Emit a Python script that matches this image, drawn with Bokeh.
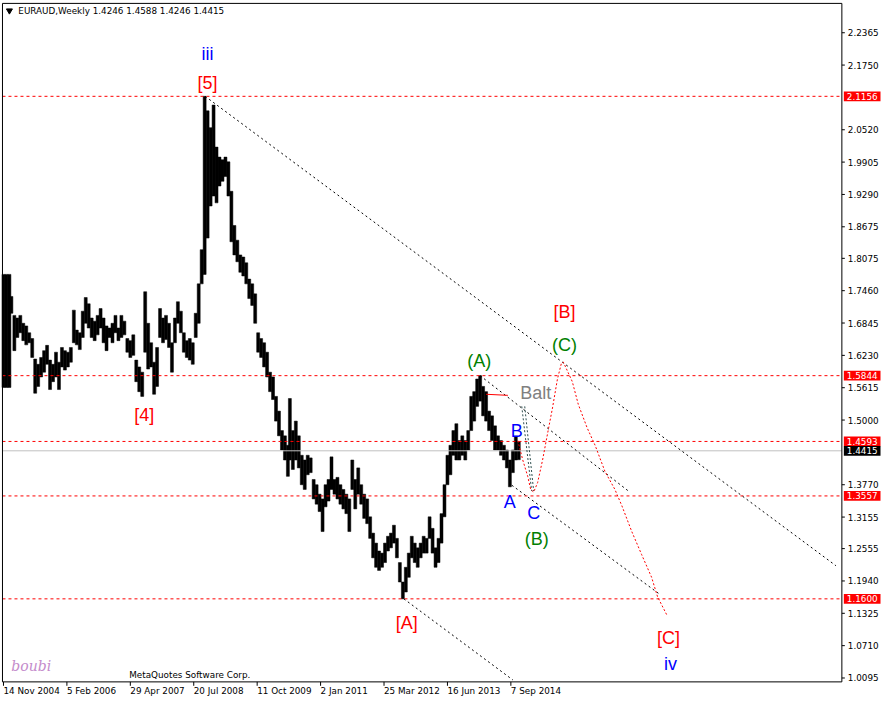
from bokeh.plotting import figure
from bokeh.models import ColumnDataSource, Range1d
from bokeh.embed import file_html
from bokeh.resources import INLINE
from bokeh.core.properties import value

# ---------------- data ----------------
# week index counted from 14 Nov 2004 (one bar per week)
week = [0, 3, 6, 8, 11, 14, 17, 20, 23, 26, 29, 32, 35, 38, 41, 44, 47, 50, 53, 56, 59, 62, 65, 68, 71,
        74, 77, 80, 83, 86, 89, 92, 95, 98, 101, 104, 107, 110, 113, 116, 119, 122, 125, 128, 131, 134,
        137, 140, 143, 146, 149, 152, 155, 158, 161, 164, 167, 170, 173, 176, 179, 182, 185, 188, 191,
        194, 197, 200, 203, 206, 209, 212, 215, 218, 221, 224, 227, 230, 233, 236, 239, 242, 245, 248,
        251, 254, 257, 260, 263, 266, 269, 272, 275, 278, 281, 284, 287, 289, 292, 295, 298, 301, 304,
        307, 310, 313, 316, 319, 322, 325, 328, 331, 334, 337, 340, 343, 346, 349, 352, 355, 358, 361,
        364, 367, 370, 373, 376, 379, 382, 385, 388, 391, 394, 397, 400, 403, 406, 409, 412, 415, 418,
        421, 424, 427, 430, 433, 436, 439, 442, 445, 448, 451, 454, 457, 460, 463, 466, 469, 472, 475,
        478, 481, 484, 487, 490, 493, 496, 499, 502, 505, 508, 511, 514, 517, 520]
high = [1.777, 1.777, 1.777, 1.735, 1.699, 1.694, 1.699, 1.684, 1.679, 1.666, 1.655, 1.616, 1.606, 1.619,
        1.632, 1.642, 1.614, 1.606, 1.629, 1.610, 1.638, 1.632, 1.629, 1.638, 1.709, 1.671, 1.666, 1.707,
        1.733, 1.721, 1.694, 1.688, 1.699, 1.712, 1.694, 1.679, 1.675, 1.684, 1.699, 1.675, 1.699, 1.688,
        1.655, 1.651, 1.662, 1.614, 1.601, 1.591, 1.744, 1.684, 1.647, 1.610, 1.638, 1.712, 1.694, 1.699,
        1.684, 1.647, 1.694, 1.725, 1.707, 1.666, 1.651, 1.655, 1.647, 1.703, 1.759, 1.824, 2.1156, 2.088,
        2.056, 2.099, 2.019, 2.000, 1.995, 2.000, 1.991, 1.935, 1.870, 1.842, 1.814, 1.810, 1.799, 1.768,
        1.759, 1.740, 1.666, 1.655, 1.647, 1.629, 1.591, 1.582, 1.545, 1.517, 1.480, 1.470, 1.452, 1.541,
        1.480, 1.498, 1.470, 1.433, 1.424, 1.433, 1.428, 1.387, 1.377, 1.359, 1.350, 1.377, 1.387, 1.430,
        1.387, 1.391, 1.377, 1.368, 1.359, 1.350, 1.424, 1.387, 1.409, 1.377, 1.359, 1.350, 1.316, 1.285,
        1.266, 1.251, 1.247, 1.266, 1.279, 1.285, 1.300, 1.275, 1.229, 1.192, 1.220, 1.247, 1.279, 1.266,
        1.257, 1.266, 1.279, 1.275, 1.316, 1.294, 1.257, 1.275, 1.322, 1.377, 1.433, 1.452, 1.480, 1.493,
        1.461, 1.470, 1.461, 1.480, 1.545, 1.554, 1.578, 1.5844, 1.564, 1.554, 1.517, 1.508, 1.489, 1.470,
        1.461, 1.452, 1.443, 1.424, 1.443, 1.469, 1.4588]
low = [1.562, 1.562, 1.562, 1.703, 1.632, 1.657, 1.666, 1.651, 1.643, 1.647, 1.619, 1.551, 1.564, 1.582,
       1.591, 1.606, 1.558, 1.573, 1.582, 1.558, 1.601, 1.595, 1.601, 1.610, 1.647, 1.643, 1.634, 1.657,
       1.684, 1.675, 1.657, 1.651, 1.662, 1.675, 1.647, 1.632, 1.657, 1.647, 1.666, 1.651, 1.657, 1.662,
       1.629, 1.619, 1.623, 1.573, 1.554, 1.545, 1.629, 1.597, 1.601, 1.549, 1.564, 1.657, 1.647, 1.653,
       1.638, 1.591, 1.647, 1.684, 1.666, 1.629, 1.619, 1.614, 1.606, 1.657, 1.684, 1.759, 1.777, 1.846,
       1.907, 1.926, 1.913, 1.945, 1.954, 1.963, 1.926, 1.839, 1.814, 1.801, 1.781, 1.774, 1.759, 1.731,
       1.718, 1.684, 1.629, 1.619, 1.601, 1.582, 1.554, 1.539, 1.498, 1.470, 1.443, 1.424, 1.393, 1.424,
       1.406, 1.424, 1.409, 1.377, 1.368, 1.396, 1.400, 1.350, 1.340, 1.326, 1.288, 1.335, 1.346, 1.368,
       1.359, 1.350, 1.340, 1.331, 1.322, 1.288, 1.368, 1.331, 1.359, 1.340, 1.313, 1.303, 1.275, 1.238,
       1.220, 1.214, 1.220, 1.229, 1.251, 1.257, 1.266, 1.238, 1.192, 1.160, 1.173, 1.201, 1.238, 1.229,
       1.220, 1.238, 1.247, 1.247, 1.275, 1.247, 1.220, 1.229, 1.266, 1.316, 1.377, 1.396, 1.433, 1.424,
       1.424, 1.433, 1.424, 1.443, 1.480, 1.498, 1.526, 1.536, 1.508, 1.498, 1.480, 1.461, 1.443, 1.443,
       1.433, 1.424, 1.409, 1.373, 1.400, 1.424, 1.4246]

date_tick_weeks = [0, 64, 128, 192, 256, 320, 384, 448, 512]
date_tick_labels = ["14 Nov 2004", "5 Feb 2006", "29 Apr 2007", "20 Jul 2008", "11 Oct 2009",
                    "2 Jan 2011", "25 Mar 2012", "16 Jun 2013", "7 Sep 2014"]
price_ticks = [2.2365, 2.1750, 2.0520, 1.9905, 1.9290, 1.8675, 1.8075, 1.7460, 1.6845, 1.6230,
               1.5615, 1.5000, 1.3770, 1.3155, 1.2555, 1.1940, 1.1325, 1.0710, 1.0095]

level_prices = [2.1156, 1.5844, 1.4593, 1.3557, 1.1600]
last_price = 1.4415

# dotted black trend lines (week, price) start/end
trend_w0 = [203.5, 481, 513, 404]
trend_p0 = [2.1156, 1.5844, 1.376, 1.160]
trend_w1 = [840, 632, 662, 514]
trend_p1 = [1.223, 1.363, 1.169, 1.0058]

# red dotted projected path
proj_week = [519, 524, 529, 532, 535, 539, 544, 549, 554, 559, 563, 565, 574, 580, 589, 597, 607,
             617, 624, 634, 644, 654, 660, 670]
proj_price = [1.461, 1.424, 1.393, 1.368, 1.363, 1.381, 1.424, 1.474, 1.523, 1.578, 1.608, 1.610,
              1.573, 1.530, 1.485, 1.452, 1.402, 1.368, 1.337, 1.288, 1.244, 1.201, 1.164, 1.127]

# "Balt" alternative dashes
balt_w0 = [523, 526]
balt_p0 = [1.526, 1.526]
balt_w1 = [533, 535]
balt_p1 = [1.365, 1.365]

# short red marker line near (A)
mark_w = [487, 509]
mark_p = [1.549, 1.547]

# wave labels
wave_text = ["iii", "[5]", "[4]", "[A]", "(A)", "Balt", "B", "A", "C", "(B)", "(C)", "[B]", "[C]", "iv"]
wave_week = [206, 206, 142, 407, 480, 537, 518, 511, 535, 538, 566, 566, 671, 673]
wave_price = [2.197, 2.140, 1.510, 1.114, 1.612, 1.552, 1.480, 1.344, 1.324, 1.2735, 1.642, 1.705,
              1.086, 1.037]
wave_color = ["#0000FF", "#FF0000", "#FF0000", "#FF0000", "#008000", "#808080", "#0000FF", "#0000FF",
              "#0000FF", "#008000", "#008000", "#FF0000", "#FF0000", "#0000FF"]

title_text = "EURAUD,Weekly  1.4246 1.4588 1.4246 1.4415"

# ---------------- layout constants (chart window in data units) ----------------
W_FIRST, W_LAST = -1, 846          # left / right edge of the price window
P_TOP, P_BOTTOM = 2.2923, 1.0021   # top / bottom edge of the price window
PX = 1 / 537.9                     # price per screen pixel of the original scale

FONT = "DejaVu Sans"
SMALL = "8.8px"
WAVE_FONT = "Liberation Sans"

p = figure(width=881, height=699, x_range=Range1d(-3, 886), y_range=Range1d(0.9686, 2.2978),
           x_axis_location=None, y_axis_location=None, toolbar_location=None, output_backend="svg",
           min_border=0, background_fill_color="white", border_fill_color="white")
p.outline_line_color = None
p.grid.visible = False

# price bars
src = ColumnDataSource(dict(w=week, hi=high, lo=low))
p.vbar(x="w", width=3, top="hi", bottom="lo", source=src, fill_color="black", line_color="black",
       line_width=0.5)

# horizontal levels and current price line (drawn over the bars)
n_lv = len(level_prices)
p.segment(x0=[W_FIRST], x1=[W_LAST], y0=[last_price], y1=[last_price], line_color="#C0C0C0",
          line_width=1)
p.segment(x0=[W_FIRST] * n_lv, x1=[W_LAST] * n_lv, y0=level_prices, y1=level_prices,
          line_color="#FF0000", line_dash="3 3", line_width=1)

# trend lines
p.segment(x0=trend_w0, y0=trend_p0, x1=trend_w1, y1=trend_p1, line_color="black", line_dash="2 3",
          line_width=1)
p.segment(x0=balt_w0, y0=balt_p0, x1=balt_w1, y1=balt_p1, line_color="#2F4F4F", line_dash="2 2",
          line_width=1)
p.line(proj_week, proj_price, line_color="#FF0000", line_dash="2 2", line_width=1)
p.line(mark_w, mark_p, line_color="#FF0000", line_width=1)

# wave labels
wsrc = ColumnDataSource(dict(x=wave_week, y=wave_price, t=wave_text, c=wave_color))
p.text(x="x", y="y", text="t", text_color="c", source=wsrc, text_font=value(WAVE_FONT),
       text_font_size="18px", text_align="center", text_baseline="middle")

# title and captions
p.scatter(x=[6], y=[2.2785], marker="inverted_triangle", size=6, color="black")
p.text(x=[15], y=[2.2785], text=[title_text], text_font=value(FONT), text_font_size=SMALL,
       text_align="left", text_baseline="middle", text_color="black")
p.text(x=[188], y=[1.0151], text=["MetaQuotes Software Corp."], text_font=value(FONT),
       text_font_size=SMALL, text_align="center", text_baseline="middle", text_color="black")
p.text(x=[28], y=[1.032], text=["boubi"], text_font=value("DejaVu Serif"), text_font_style="italic",
       text_font_size="14px", text_align="center", text_baseline="middle", text_color="#C48BCB")

# window frame
p.quad(left=[W_FIRST], right=[W_LAST], top=[P_TOP], bottom=[P_BOTTOM], fill_color=None,
       line_color="black", line_width=1)

# price scale (right)
n_pt = len(price_ticks)
p.segment(x0=[W_LAST] * n_pt, x1=[W_LAST + 3] * n_pt, y0=price_ticks, y1=price_ticks,
          line_color="black", line_width=1)
p.text(x=[W_LAST + 6] * n_pt, y=price_ticks, text=[f"{v:.4f}" for v in price_ticks],
       text_font=value(FONT), text_font_size=SMALL, text_align="left", text_baseline="middle",
       text_color="black")

# time scale (bottom)
n_dt = len(date_tick_weeks)
p.segment(x0=date_tick_weeks, x1=date_tick_weeks, y0=[P_BOTTOM] * n_dt, y1=[P_BOTTOM - 4 * PX] * n_dt,
          line_color="black", line_width=1)
p.text(x=date_tick_weeks, y=[P_BOTTOM - 9 * PX] * n_dt, text=date_tick_labels, text_font=value(FONT),
       text_font_size=SMALL, text_align="left", text_baseline="middle", text_color="black")

# price boxes on the scale
box_prices = level_prices + [last_price]
box_colors = ["#FF0000"] * n_lv + ["#000000"]
p.quad(left=[W_LAST + 2] * len(box_prices), right=[W_LAST + 39] * len(box_prices),
       top=[v + 5 * PX for v in box_prices], bottom=[v - 5 * PX for v in box_prices],
       fill_color=box_colors, line_color=None)
p.text(x=[W_LAST + 5] * len(box_prices), y=box_prices, text=[f"{v:.4f}" for v in box_prices],
       text_font=value(FONT), text_font_size=SMALL, text_align="left", text_baseline="middle",
       text_color="white")

open("out.html", "w").write(file_html(p, INLINE))
